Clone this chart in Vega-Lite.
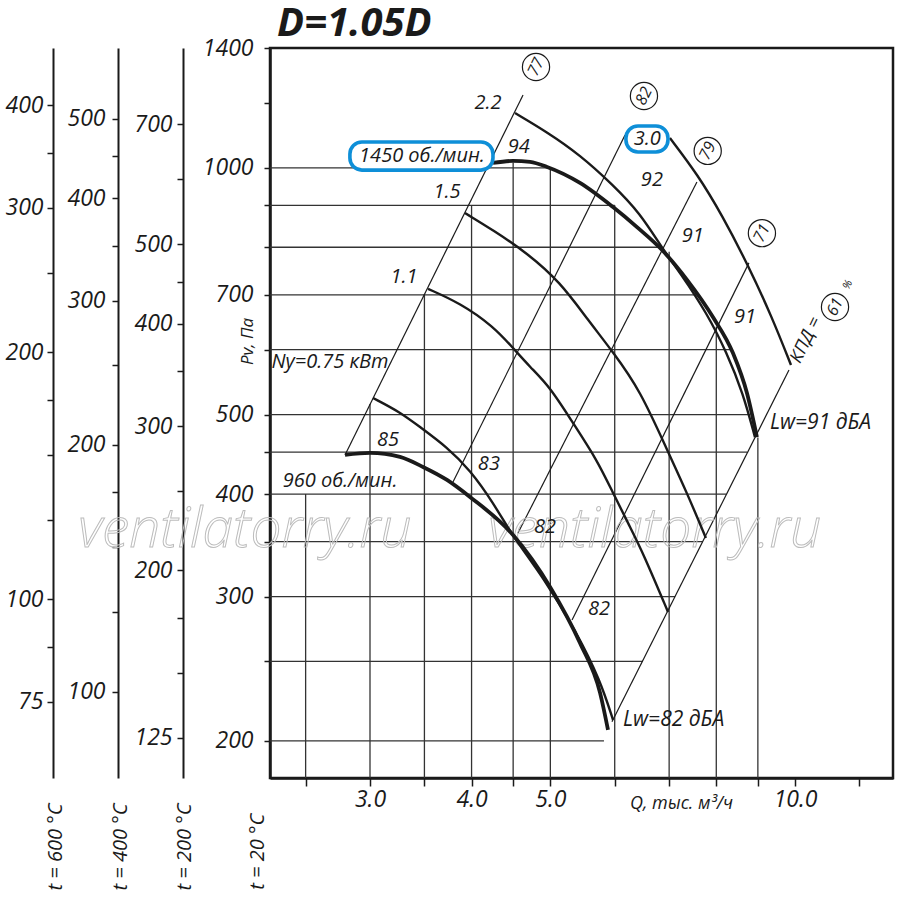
{
  "$schema": "https://vega.github.io/schema/vega-lite/v6.json",
  "width": 623,
  "height": 730,
  "autosize": {"type": "none"},
  "padding": {"left": 270, "top": 48, "right": 7, "bottom": 125},
  "background": "white",
  "datasets": {
    "curves": [
      {"id": "960", "Q": 2.795, "P": 446.5},
      {"id": "960", "Q": 3.0, "P": 449.0},
      {"id": "960", "Q": 3.266, "P": 444.0},
      {"id": "960", "Q": 3.486, "P": 431.7},
      {"id": "960", "Q": 3.731, "P": 416.2},
      {"id": "960", "Q": 3.982, "P": 396.8},
      {"id": "960", "Q": 4.499, "P": 356.6},
      {"id": "960", "Q": 4.996, "P": 308.2},
      {"id": "960", "Q": 5.438, "P": 263.3},
      {"id": "960", "Q": 5.756, "P": 228.9},
      {"id": "960", "Q": 5.887, "P": 206.3},
      {"id": "1450", "Q": 4.25, "P": 1013.8},
      {"id": "1450", "Q": 4.499, "P": 1019.6},
      {"id": "1450", "Q": 4.721, "P": 1016.7},
      {"id": "1450", "Q": 4.954, "P": 1002.5},
      {"id": "1450", "Q": 5.438, "P": 958.5},
      {"id": "1450", "Q": 5.971, "P": 895.7},
      {"id": "1450", "Q": 6.391, "P": 846.7},
      {"id": "1450", "Q": 6.861, "P": 793.9},
      {"id": "1450", "Q": 7.364, "P": 730.0},
      {"id": "1450", "Q": 7.924, "P": 657.6},
      {"id": "1450", "Q": 8.387, "P": 594.4},
      {"id": "1450", "Q": 8.726, "P": 531.3},
      {"id": "1450", "Q": 8.976, "P": 469.4},
      {"id": "0.75", "Q": 3.026, "P": 523.9},
      {"id": "0.75", "Q": 3.266, "P": 503.6},
      {"id": "0.75", "Q": 3.457, "P": 482.8},
      {"id": "0.75", "Q": 3.731, "P": 456.4},
      {"id": "0.75", "Q": 3.982, "P": 428.1},
      {"id": "0.75", "Q": 4.25, "P": 391.0},
      {"id": "0.75", "Q": 4.499, "P": 354.6},
      {"id": "0.75", "Q": 4.898, "P": 317.0},
      {"id": "0.75", "Q": 5.393, "P": 270.8},
      {"id": "0.75", "Q": 5.756, "P": 237.4},
      {"id": "0.75", "Q": 5.971, "P": 212.2},
      {"id": "1.1", "Q": 3.536, "P": 711.8},
      {"id": "1.1", "Q": 3.871, "P": 684.0},
      {"id": "1.1", "Q": 4.25, "P": 641.2},
      {"id": "1.1", "Q": 4.499, "P": 602.8},
      {"id": "1.1", "Q": 4.721, "P": 571.5},
      {"id": "1.1", "Q": 4.996, "P": 540.3},
      {"id": "1.1", "Q": 5.332, "P": 488.2},
      {"id": "1.1", "Q": 5.707, "P": 440.3},
      {"id": "1.1", "Q": 5.971, "P": 401.3},
      {"id": "1.1", "Q": 6.266, "P": 364.7},
      {"id": "1.1", "Q": 6.501, "P": 339.1},
      {"id": "1.1", "Q": 6.978, "P": 287.3},
      {"id": "1.5", "Q": 3.926, "P": 880.7},
      {"id": "1.5", "Q": 4.25, "P": 839.6},
      {"id": "1.5", "Q": 4.681, "P": 787.3},
      {"id": "1.5", "Q": 5.139, "P": 725.9},
      {"id": "1.5", "Q": 5.563, "P": 652.1},
      {"id": "1.5", "Q": 5.971, "P": 596.1},
      {"id": "1.5", "Q": 6.446, "P": 535.8},
      {"id": "1.5", "Q": 6.978, "P": 450.2},
      {"id": "1.5", "Q": 7.364, "P": 401.3},
      {"id": "1.5", "Q": 7.768, "P": 353.6},
      {"id": "2.2", "Q": 4.524, "P": 1166.2},
      {"id": "2.2", "Q": 4.954, "P": 1105.6},
      {"id": "2.2", "Q": 5.438, "P": 1036.9},
      {"id": "2.2", "Q": 5.971, "P": 953.1},
      {"id": "2.2", "Q": 6.446, "P": 880.7},
      {"id": "2.2", "Q": 6.861, "P": 798.3},
      {"id": "2.2", "Q": 7.22, "P": 744.5},
      {"id": "2.2", "Q": 7.79, "P": 665.1},
      {"id": "2.2", "Q": 8.245, "P": 594.4},
      {"id": "2.2", "Q": 8.627, "P": 531.3},
      {"id": "2.2", "Q": 8.926, "P": 469.4},
      {"id": "3.0", "Q": 7.016, "P": 1087.2},
      {"id": "3.0", "Q": 7.595, "P": 980.0},
      {"id": "3.0", "Q": 8.13, "P": 875.8},
      {"id": "3.0", "Q": 8.75, "P": 761.4},
      {"id": "3.0", "Q": 9.367, "P": 657.6},
      {"id": "3.0", "Q": 9.885, "P": 574.7}
    ],
    "segments": [
      {"kind": "grid", "Q": 2.5, "P": 180.22, "Q2": 2.5, "P2": 400},
      {"kind": "grid", "Q": 3, "P": 180.22, "Q2": 3, "P2": 515},
      {"kind": "grid", "Q": 3.5, "P": 180.22, "Q2": 3.5, "P2": 701},
      {"kind": "grid", "Q": 4, "P": 180.22, "Q2": 4, "P2": 900},
      {"kind": "grid", "Q": 4.5, "P": 180.22, "Q2": 4.5, "P2": 1015},
      {"kind": "grid", "Q": 5, "P": 180.22, "Q2": 5, "P2": 1002},
      {"kind": "grid", "Q": 6, "P": 180.22, "Q2": 6, "P2": 900},
      {"kind": "grid", "Q": 7, "P": 180.22, "Q2": 7, "P2": 790},
      {"kind": "grid", "Q": 8, "P": 180.22, "Q2": 8, "P2": 640},
      {"kind": "grid", "Q": 9, "P": 180.22, "Q2": 9, "P2": 469},
      {"kind": "grid", "Q": 2.26, "P": 1000, "Q2": 5.0, "P2": 1000},
      {"kind": "grid", "Q": 2.26, "P": 900, "Q2": 6.0, "P2": 900},
      {"kind": "grid", "Q": 2.26, "P": 800, "Q2": 6.86, "P2": 800},
      {"kind": "grid", "Q": 2.26, "P": 700, "Q2": 7.57, "P2": 700},
      {"kind": "grid", "Q": 2.26, "P": 600, "Q2": 8.35, "P2": 600},
      {"kind": "grid", "Q": 2.26, "P": 500, "Q2": 8.8, "P2": 500},
      {"kind": "grid", "Q": 2.26, "P": 450, "Q2": 8.73, "P2": 450},
      {"kind": "grid", "Q": 2.26, "P": 400, "Q2": 8.23, "P2": 400},
      {"kind": "grid", "Q": 2.26, "P": 350, "Q2": 7.7, "P2": 350},
      {"kind": "grid", "Q": 2.26, "P": 300, "Q2": 7.12, "P2": 300},
      {"kind": "grid", "Q": 2.26, "P": 250, "Q2": 6.5, "P2": 250},
      {"kind": "grid", "Q": 2.26, "P": 200, "Q2": 5.82, "P2": 200},
      {"kind": "eff", "Q": 2.795, "P": 446.5, "Q2": 4.628, "P2": 1226.9},
      {"kind": "eff", "Q": 3.795, "P": 413.9, "Q2": 6.178, "P2": 1096.4},
      {"kind": "eff", "Q": 4.562, "P": 358.6, "Q2": 7.573, "P2": 961.2},
      {"kind": "eff", "Q": 5.317, "P": 280.9, "Q2": 8.775, "P2": 765.7},
      {"kind": "eff", "Q": 5.954, "P": 211.0, "Q2": 9.829, "P2": 566.7}
    ],
    "boxes": [
      {"Q": 2.834, "Q2": 4.25, "P": 993.6, "P2": 1075},
      {"Q": 6.194, "Q2": 6.977, "P": 1045.6, "P2": 1124.5}
    ],
    "labels": [
      {"kind": "power", "text": "2.2", "Q": 4.191, "P": 1199.5},
      {"kind": "power", "text": "1.5", "Q": 3.731, "P": 934.8},
      {"kind": "power", "text": "1.1", "Q": 3.304, "P": 735.8},
      {"kind": "power", "text": "Ny=0.75 кВт", "Q": 2.679, "P": 579.4},
      {"kind": "power", "text": "3.0", "Q": 6.579, "P": 1084.4},
      {"kind": "speed", "text": "1450 об./мин.", "Q": 3.476, "P": 1034},
      {"kind": "speed", "text": "960 об./мин.", "Q": 2.756, "P": 414.8},
      {"kind": "noise", "text": "94", "Q": 4.573, "P": 1060.4},
      {"kind": "noise", "text": "92", "Q": 6.666, "P": 966},
      {"kind": "noise", "text": "91", "Q": 7.482, "P": 825.7},
      {"kind": "noise", "text": "91", "Q": 8.68, "P": 657.6},
      {"kind": "noise", "text": "85", "Q": 3.157, "P": 465.8},
      {"kind": "noise", "text": "83", "Q": 4.201, "P": 435.4},
      {"kind": "noise", "text": "82", "Q": 4.926, "P": 364.8},
      {"kind": "noise", "text": "82", "Q": 5.737, "P": 289.6},
      {"kind": "lw", "text": "Lw=91 дБА", "Q": 9.314, "P": 488.6},
      {"kind": "lw", "text": "Lw=82 дБА", "Q": 6.143, "P": 212.2}
    ],
    "efficiency": [
      {"eff": "77", "Q": 4.801, "P": 1327.3},
      {"eff": "82", "Q": 6.518, "P": 1223.3},
      {"eff": "79", "Q": 7.808, "P": 1048.6},
      {"eff": "71", "Q": 9.104, "P": 832.4},
      {"eff": "61", "Q": 11.198, "P": 676.5}
    ],
    "notes": [
      {"kind": "kpd", "text": "КПД =", "Q": 10.32, "P": 616.4},
      {"kind": "pct", "text": "%", "Q": 11.615, "P": 719.9},
      {"kind": "title", "text": "D=1.05D", "Q": 2.306, "P": 1446},
      {"kind": "temp", "text": "t = 20 °C", "Q": 2.185, "P": 131.7},
      {"kind": "mark", "text": "ventilatorry.ru", "Q": 2.105, "P": 361.2},
      {"kind": "mark", "text": "ventilatorry.ru", "Q": 6.72, "P": 361.2}
    ]
  },
  "layer": [
    {
      "encoding": {
        "x": {
          "field": "Q",
          "type": "quantitative",
          "scale": {"type": "log", "domain": [2.26, 13.197], "nice": false},
          "axis": {
            "orient": "bottom",
            "values": [2.5, 3, 3.5, 4, 4.5, 5, 6, 7, 8, 9, 10, 12],
            "labelExpr": "indexof([3, 4, 5, 10], datum.value) >= 0 ? format(datum.value, '.1f') : ''",
            "tickSize": 8,
            "labelPadding": 2,
            "domainWidth": 2.5,
            "title": "Q, тыс. м³/ч",
            "titleX": 411,
            "titleY": 25,
            "titleAngle": 0,
            "titleAlign": "center",
            "titleBaseline": "middle",
            "titleFontSize": 18
          }
        },
        "y": {
          "field": "P",
          "type": "quantitative",
          "scale": {"type": "log", "domain": [180.22, 1400], "nice": false},
          "axis": {
            "orient": "left",
            "values": [1400, 1200, 1000, 900, 800, 700, 600, 500, 450, 400, 350, 300, 250, 200],
            "labelExpr": "indexof([1400, 1000, 700, 500, 400, 300, 200], datum.value) >= 0 ? format(datum.value, 'd') : ''",
            "tickSize": 6,
            "labelPadding": 11,
            "domainWidth": 2.5,
            "title": "Pv, Па",
            "titleX": -23,
            "titleY": 293,
            "titleAngle": 270,
            "titleAlign": "center",
            "titleBaseline": "middle",
            "titleFontSize": 17
          }
        }
      },
      "layer": [
        {
          "data": {"name": "segments"},
          "transform": [{"filter": "datum.kind == 'grid'"}],
          "mark": {"type": "rule", "color": "#333333", "strokeWidth": 1.3},
          "encoding": {"x2": {"field": "Q2"}, "y2": {"field": "P2"}}
        },
        {
          "data": {"name": "segments"},
          "transform": [{"filter": "datum.kind == 'eff'"}],
          "mark": {"type": "rule", "color": "#1a1a1a", "strokeWidth": 1.2},
          "encoding": {"x2": {"field": "Q2"}, "y2": {"field": "P2"}}
        },
        {
          "data": {"name": "notes"},
          "transform": [{"filter": "datum.kind == 'mark'"}],
          "mark": {
            "type": "text",
            "fontSize": 55,
            "fontStyle": "italic",
            "fontWeight": 300,
            "fill": "white",
            "fillOpacity": 0,
            "stroke": "#bcbcbc",
            "strokeWidth": 1,
            "align": "center",
            "baseline": "middle"
          },
          "encoding": {"text": {"field": "text"}}
        },
        {
          "data": {"name": "curves"},
          "transform": [{"filter": "datum.id != '960' && datum.id != '1450'"}],
          "mark": {"type": "line", "interpolate": "basis", "color": "#1a1a1a", "strokeWidth": 2.4},
          "encoding": {"detail": {"field": "id"}}
        },
        {
          "data": {"name": "curves"},
          "transform": [{"filter": "datum.id == '960' || datum.id == '1450'"}],
          "mark": {"type": "line", "interpolate": "monotone", "color": "#1a1a1a", "strokeWidth": 3.8},
          "encoding": {"detail": {"field": "id"}}
        },
        {
          "data": {"name": "boxes"},
          "mark": {"type": "rect", "fill": "white", "stroke": "#0e8fd8", "strokeWidth": 3.6, "cornerRadius": 12},
          "encoding": {"x2": {"field": "Q2"}, "y2": {"field": "P2"}}
        },
        {
          "data": {"name": "labels"},
          "transform": [{"filter": "datum.kind != 'lw'"}],
          "mark": {"type": "text", "fontSize": 20, "fontStyle": "italic", "color": "#1a1a1a", "align": "center", "baseline": "middle"},
          "encoding": {"text": {"field": "text"}}
        },
        {
          "data": {"name": "labels"},
          "transform": [{"filter": "datum.kind == 'lw'"}],
          "mark": {"type": "text", "fontSize": 21, "fontStyle": "italic", "color": "#1a1a1a", "align": "left", "baseline": "middle"},
          "encoding": {"text": {"field": "text"}}
        },
        {
          "data": {"name": "efficiency"},
          "mark": {"type": "point", "shape": "circle", "size": 740, "filled": true, "fill": "white", "stroke": "#1a1a1a", "strokeWidth": 1.2, "opacity": 1}
        },
        {
          "data": {"name": "efficiency"},
          "mark": {"type": "text", "fontSize": 16, "fontStyle": "italic", "color": "#1a1a1a", "angle": 296, "align": "center", "baseline": "middle"},
          "encoding": {"text": {"field": "eff"}}
        },
        {
          "data": {"name": "notes"},
          "transform": [{"filter": "datum.kind == 'kpd'"}],
          "mark": {"type": "text", "fontSize": 18, "fontStyle": "italic", "color": "#1a1a1a", "angle": 296, "align": "center", "baseline": "middle"},
          "encoding": {"text": {"field": "text"}}
        },
        {
          "data": {"name": "notes"},
          "transform": [{"filter": "datum.kind == 'pct'"}],
          "mark": {"type": "text", "fontSize": 11, "fontStyle": "italic", "color": "#1a1a1a", "angle": 296, "align": "center", "baseline": "middle"},
          "encoding": {"text": {"field": "text"}}
        },
        {
          "data": {"name": "notes"},
          "transform": [{"filter": "datum.kind == 'title'"}],
          "mark": {"type": "text", "fontSize": 40, "fontStyle": "italic", "fontWeight": "bold", "color": "#1a1a1a", "align": "left", "baseline": "alphabetic"},
          "encoding": {"text": {"field": "text"}}
        },
        {
          "data": {"name": "notes"},
          "transform": [{"filter": "datum.kind == 'temp'"}],
          "mark": {"type": "text", "fontSize": 20, "fontStyle": "italic", "color": "#1a1a1a", "angle": 270, "align": "left", "baseline": "middle"},
          "encoding": {"text": {"field": "text"}}
        }
      ]
    },
    {
      "data": {"values": [{"v": 300}]},
      "mark": {"type": "point", "opacity": 0},
      "encoding": {
        "y": {
          "field": "v",
          "type": "quantitative",
          "scale": {"type": "log", "domain": [111.66, 867.4], "nice": false},
          "axis": {
            "orient": "left",
            "offset": 87,
            "values": [700, 600, 500, 450, 400, 350, 300, 250, 200, 175, 150, 125],
            "labelExpr": "indexof([700, 500, 400, 300, 200, 125], datum.value) >= 0 ? format(datum.value, 'd') : ''",
            "tickSize": 6,
            "labelPadding": 5,
            "domainWidth": 2,
            "title": "t = 200 °C",
            "titleX": 1,
            "titleY": 842,
            "titleAngle": 270,
            "titleAlign": "left",
            "titleBaseline": "middle",
            "titleFontSize": 20
          }
        }
      }
    },
    {
      "data": {"values": [{"v": 200}]},
      "mark": {"type": "point", "opacity": 0},
      "encoding": {
        "y": {
          "field": "v",
          "type": "quantitative",
          "scale": {"type": "log", "domain": [78.48, 609.69], "nice": false},
          "axis": {
            "orient": "left",
            "offset": 152,
            "values": [500, 450, 400, 350, 300, 250, 200, 175, 150, 125, 100],
            "labelExpr": "indexof([500, 400, 300, 200, 100], datum.value) >= 0 ? format(datum.value, 'd') : ''",
            "tickSize": 6,
            "labelPadding": 7,
            "domainWidth": 2,
            "title": "t = 400 °C",
            "titleX": 2,
            "titleY": 842,
            "titleAngle": 270,
            "titleAlign": "left",
            "titleBaseline": "middle",
            "titleFontSize": 20
          }
        }
      }
    },
    {
      "data": {"values": [{"v": 150}]},
      "mark": {"type": "point", "opacity": 0},
      "encoding": {
        "y": {
          "field": "v",
          "type": "quantitative",
          "scale": {"type": "log", "domain": [60.51, 470.03], "nice": false},
          "axis": {
            "orient": "left",
            "offset": 217,
            "values": [400, 350, 300, 250, 200, 175, 150, 125, 100, 87.5, 75],
            "labelExpr": "indexof([400, 300, 200, 100, 75], datum.value) >= 0 ? format(datum.value, 'd') : ''",
            "tickSize": 6,
            "labelPadding": 4,
            "domainWidth": 2,
            "title": "t = 600 °C",
            "titleX": 2,
            "titleY": 842,
            "titleAngle": 270,
            "titleAlign": "left",
            "titleBaseline": "middle",
            "titleFontSize": 20
          }
        }
      }
    }
  ],
  "resolve": {"scale": {"y": "independent"}, "axis": {"y": "independent"}},
  "config": {
    "font": "Open Sans",
    "view": {"stroke": "#1a1a1a", "strokeWidth": 2.5},
    "text": {"font": "Open Sans"},
    "axis": {
      "grid": false,
      "labelFont": "Open Sans",
      "labelFontStyle": "italic",
      "labelFontSize": 23,
      "labelColor": "#1a1a1a",
      "labelOverlap": false,
      "labelFlush": false,
      "tickColor": "#1a1a1a",
      "tickWidth": 1.5,
      "domainColor": "#1a1a1a",
      "titleFont": "Open Sans",
      "titleFontStyle": "italic",
      "titleFontWeight": "normal",
      "titleColor": "#1a1a1a"
    }
  }
}
